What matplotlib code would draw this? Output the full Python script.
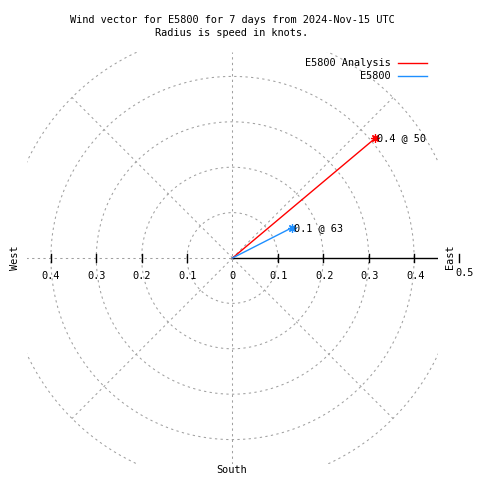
import numpy as np
import matplotlib
matplotlib.use("Agg")
import matplotlib.pyplot as plt
from matplotlib.lines import Line2D

# ---- data ----
series_names = ["E5800 Analysis", "E5800"]
series_colors = ["#ff0000", "#1e8fff"]
speeds = [0.41, 0.146]          # knots (radius)
directions = [50, 63]           # degrees clockwise from north
grid_radii = [0.1, 0.2, 0.3, 0.4, 0.5]
tick_values = [0.1, 0.2, 0.3, 0.4]
title_lines = ["Wind vector for E5800 for 7 days from 2024-Nov-15 UTC",
               "Radius is speed in knots."]

W = H = 480
FONT = dict(family="DejaVu Sans Mono", fontsize=7.4, color="black")
GRID = dict(color="#a0a0a0", lw=0.75, ls=(0, (2.2, 3.2)))

fig = plt.figure(figsize=(4.8, 4.8), dpi=100)
cx, cy, half = 232.5, 258.0, 206.0
scale = 454.0
lim = half / scale
ax = fig.add_axes([(cx - half) / W, (H - (cy + half)) / H, 2 * half / W, 2 * half / H])
ax.set_xlim(-lim, lim)
ax.set_ylim(-lim, lim)
ax.set_aspect("equal")
ax.axis("off")

# grid circles
t = np.linspace(0, 2 * np.pi, 720)
for r in grid_radii:
    ax.plot(r * np.cos(t), r * np.sin(t), **GRID)
# spokes
for ang in [45, 135, 225, 315]:
    a = np.deg2rad(ang)
    ax.plot([0, 0.5 * np.cos(a)], [0, 0.5 * np.sin(a)], **GRID)
ax.plot([0, 0], [-lim, lim], **GRID)
ax.plot([-lim, 0], [0, 0], **GRID)
# r axis
ax.plot([0, lim], [0, 0], color="black", lw=1)
tick_half = 4 / scale
for v in tick_values + [0.5]:
    ax.plot([v, v], [-tick_half, tick_half], color="black", lw=1, clip_on=False)
for v in tick_values:
    ax.plot([-v, -v], [-tick_half, tick_half], color="black", lw=1, clip_on=False)

lab_y = -18 / scale
for v in tick_values:
    ax.text(-v, lab_y, f"{v:.1f}", ha="center", va="center", **FONT)
    ax.text(v + 1 / scale, lab_y, f"{v:.1f}", ha="center", va="center", **FONT)
ax.text(0, lab_y, "0", ha="center", va="center", clip_on=False, **FONT)
ax.text(0.5 + 5 / scale, lab_y + 3 / scale, "0.5", ha="center", va="center", **FONT)

# compass labels
fig.text(15 / W, 1 - 258 / H, "West", rotation=90, ha="center", va="center", **FONT)
fig.text(450 / W, 1 - 257 / H, "East", rotation=90, ha="center", va="center", **FONT)
fig.text(232 / W, 1 - 470 / H, "South", ha="center", va="center", **FONT)

# title
fig.text(232 / W, 1 - 20 / H, title_lines[0], ha="center", va="center", **FONT)
fig.text(232 / W, 1 - 33 / H, title_lines[1], ha="center", va="center", **FONT)

# vectors
for name, col, spd, d in zip(series_names, series_colors, speeds, directions):
    a = np.deg2rad(90 - d)
    x, y = spd * np.cos(a), spd * np.sin(a)
    ax.plot([0, x], [0, y], color=col, lw=1)
    ax.plot([x], [y], marker=(8, 2, 0), color=col, ms=6, mew=0.9)
    ax.text(x + 2 / scale, y, f"{spd:.1f} @ {d}", ha="left", va="center", **FONT)

# legend
for i, (name, col) in enumerate(zip(series_names, series_colors)):
    yy = 1 - (63 + 13 * i) / H
    fig.text(391 / W, yy, name, ha="right", va="center", **FONT)
    fig.add_artist(Line2D([398 / W, 427 / W], [yy, yy], color=col, lw=1))

fig.savefig("out.png", dpi=100)
